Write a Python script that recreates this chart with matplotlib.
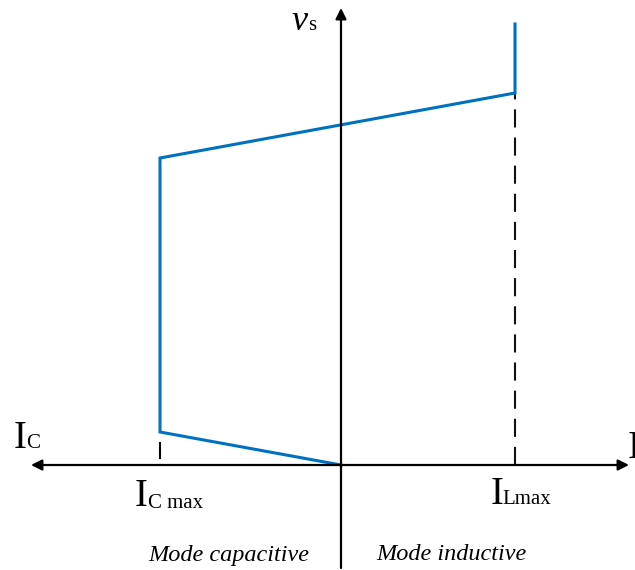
import matplotlib.pyplot as plt

# characteristic v_s(I), origin at the axes crossing
curve_i = [0, -181, -181, 174, 174]
curve_v = [0, 33, 307, 372, 441]

i_cmax = -181
i_lmax = 174
v_at_cmax = 33
v_at_lmax = 372

blue = "#0070C0"
serif = "Liberation Serif"

fig = plt.figure(figsize=(6.35, 5.7), dpi=100)
ax = fig.add_axes([0, 0, 1, 1])
ax.set_xlim(-341, 294)
ax.set_ylim(-105, 465)
ax.axis("off")

# axes arrows
ax.annotate("", xy=(-310, 0), xytext=(0, 0),
            arrowprops=dict(arrowstyle="-|>", color="black", lw=1.6, mutation_scale=16, shrinkA=0, shrinkB=0))
ax.annotate("", xy=(288, 0), xytext=(0, 0),
            arrowprops=dict(arrowstyle="-|>", color="black", lw=1.6, mutation_scale=16, shrinkA=0, shrinkB=0))
ax.annotate("", xy=(0, 457), xytext=(0, -103),
            arrowprops=dict(arrowstyle="-|>", color="black", lw=1.6, mutation_scale=16, shrinkA=0, shrinkB=0))

# dashed guides
ax.plot([i_cmax, i_cmax], [7, v_at_cmax - 11], color="black", lw=1.5)
ax.plot([i_lmax, i_lmax], [0, v_at_lmax], color="#111111", lw=1.5, dashes=(8.7, 4.8))

ax.plot(curve_i, curve_v, color=blue, lw=2.2, solid_joinstyle="miter")

big = 28
small = 15
ax.text(-321, 27, "I", fontsize=big, family=serif, ha="center", va="center")
ax.text(-308, 21, "C", fontsize=small, family=serif, ha="center", va="center")
ax.text(-41, 443, "v", fontsize=26, family=serif, style="italic", ha="center", va="center")
ax.text(-29, 439, "s", fontsize=small, family=serif, ha="center", va="center")

ax.text(-200, -31, "I", fontsize=big, family=serif, ha="center", va="center")
ax.text(-165, -38, "C max", fontsize=small, family=serif, ha="center", va="center")
ax.text(156, -29, "I", fontsize=big, family=serif, ha="center", va="center")
ax.text(186, -35, "Lmax", fontsize=small, family=serif, ha="center", va="center")
ax.text(287, 16, "I", fontsize=big, family=serif, ha="left", va="center")

ax.text(-112, -90, "Mode capacitive", fontsize=17.5, family=serif, style="italic", ha="center", va="center")
ax.text(110, -90, "Mode inductive", fontsize=17.5, family=serif, style="italic", ha="center", va="center")

fig.savefig("out.png", dpi=100)
